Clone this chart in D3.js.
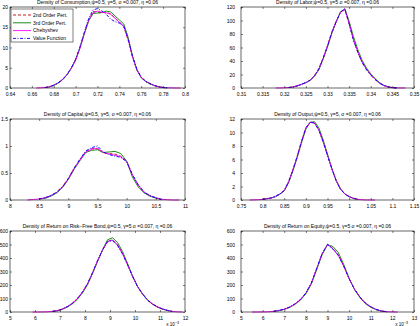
<!DOCTYPE html>
<html>
<head>
<meta charset="utf-8">
<script src="https://cdn.jsdelivr.net/npm/d3@7"></script>
<style>
  body { margin: 0; background: #fff; }
  svg { font-family: "Liberation Sans", Arial, sans-serif; }
</style>
</head>
<body>
<div id="chart"></div>
<script>
// Series names (legend)
var seriesNames = ["2nd Order Pert.", "3rd Order Pert.", "Chebyshev", "Value Function"];

// Consumption
var consBins = [0.664,0.668,0.672,0.676,0.680,0.684,0.688,0.692,0.696,0.700,0.704,0.708,0.712,0.716,0.720,0.724,0.728,0.732,0.736,0.740,0.744,0.748,0.752,0.756,0.760,0.764,0.768,0.772,0.776,0.780,0.784,0.788,0.792,0.796];
var consPert2 = [null,null,0.1,0.3,0.7,1.2,2.0,3.3,4.9,7.0,10.0,13.6,16.9,18.9,18.7,18.6,18.7,18.3,17.3,16.3,15.2,11.8,7.6,4.4,2.6,1.6,1.0,0.6,0.3,0.1,0.05,null,null,null];
var consPert3 = [null,null,0.1,0.25,0.6,1.2,2.0,3.2,4.9,7.0,10.0,13.4,16.6,18.4,18.5,18.6,19.0,18.8,17.8,16.8,15.8,12.5,7.9,4.5,2.5,1.6,1.0,0.6,0.3,0.1,0.05,null,null,null];
var consCheb = [0,0.05,0.15,0.3,0.7,1.3,2.1,3.2,4.8,6.8,9.8,13.5,16.8,18.6,19.0,18.7,18.6,18.2,17.2,16.2,15.3,12.0,7.8,4.5,2.6,1.7,1.1,0.6,0.3,0.15,0.05,0.02,0,0];
var consVfi = [null,null,0.1,0.3,0.7,1.3,2.1,3.3,4.9,7.1,10.2,13.8,17.2,19.3,19.6,19.0,18.2,17.0,16.4,16.0,15.2,12.2,7.9,4.6,2.7,1.7,1.1,0.6,0.3,0.15,0.05,null,null,null];
var consXTicks = [0.64,0.66,0.68,0.7,0.72,0.74,0.76,0.78,0.8];
var consYTicks = [0,5,10,15,20];

// Labor
var laborBins = [0.318,0.319,0.320,0.321,0.322,0.323,0.324,0.325,0.326,0.327,0.328,0.329,0.330,0.331,0.332,0.333,0.334,0.335,0.336,0.337,0.338,0.339,0.340,0.341,0.342,0.343,0.344,0.345,0.346,0.347,0.348];
var laborPert2 = [null,null,null,0.6,1.4,3.3,5.6,8.2,11.8,18.5,29,45,63,83,99,112,116,95,71,53,38,27,19,12.5,7.2,3.6,1.5,0.5,0.1,null,null];
var laborPert3 = [null,null,null,0.6,1.4,3.0,5.3,7.8,11.2,17.5,27,43,61,81,98,113,117,99,76,57,41,30,21,14,8.2,4.2,1.9,0.7,0.2,null,null];
var laborCheb = [0,0.1,0.3,0.7,1.5,3.2,5.5,8,11.5,18,28,44,62,82,98,112,117,96,72,54,39,28,20,13,7.5,3.8,1.6,0.6,0.2,0.05,0];
var laborVfi = [null,null,null,0.7,1.5,3.2,5.5,8.1,11.6,18.2,28,44,62,82,98,112,118,95,71,53,38,27.5,19.5,12.8,7.3,3.7,1.5,0.5,0.1,null,null];
var laborXTicks = [0.31,0.315,0.32,0.325,0.33,0.335,0.34,0.345,0.35];
var laborYTicks = [0,20,40,60,80,100,120];

// Capital
var capBins = [8.3,8.4,8.5,8.6,8.7,8.8,8.9,9.0,9.1,9.2,9.3,9.4,9.5,9.6,9.7,9.8,9.9,10.0,10.1,10.2,10.3,10.4,10.5,10.6,10.7,10.8,10.9];
var capPert2 = [null,null,0.02,0.04,0.08,0.15,0.25,0.40,0.59,0.75,0.90,0.95,0.95,0.87,0.86,0.85,0.81,0.72,0.46,0.27,0.14,0.08,0.04,0.01,null,null,null];
var capPert3 = [null,null,0.02,0.03,0.07,0.13,0.23,0.38,0.57,0.73,0.88,0.92,0.93,0.88,0.89,0.90,0.86,0.72,0.42,0.24,0.13,0.07,0.035,0.01,null,null,null];
var capCheb = [0,0.01,0.02,0.04,0.08,0.14,0.24,0.39,0.58,0.74,0.89,0.94,0.96,0.88,0.85,0.83,0.80,0.71,0.46,0.27,0.14,0.08,0.04,0.015,0.005,0,0];
var capVfi = [null,null,0.02,0.04,0.08,0.14,0.24,0.40,0.59,0.76,0.91,0.97,1.0,0.89,0.84,0.81,0.79,0.71,0.47,0.28,0.15,0.08,0.04,0.01,null,null,null];
var capXTicks = [8,8.5,9,9.5,10,10.5,11];
var capYTicks = [0,0.5,1,1.5];

// Output
var outBins = [0.77,0.78,0.79,0.80,0.81,0.82,0.83,0.84,0.85,0.86,0.87,0.88,0.89,0.90,0.91,0.92,0.93,0.94,0.95,0.96,0.97,0.98,0.99,1.00,1.01,1.02,1.03,1.04,1.05,1.06];
var outPert2 = [null,null,null,0.1,0.2,0.3,0.55,0.9,1.45,2.7,4.5,6.5,8.7,10.7,11.5,11.4,10.4,8.6,6.6,4.6,2.9,1.6,0.9,0.5,0.25,0.1,null,null,null,null];
var outPert3 = [null,null,null,0.1,0.2,0.3,0.5,0.85,1.35,2.55,4.3,6.3,8.5,10.5,11.5,11.6,10.7,8.9,6.8,4.7,2.9,1.65,0.9,0.5,0.25,0.1,null,null,null,null];
var outCheb = [0,0.02,0.05,0.1,0.2,0.3,0.55,0.9,1.4,2.65,4.4,6.4,8.65,10.65,11.5,11.4,10.4,8.65,6.65,4.65,2.9,1.65,0.9,0.5,0.25,0.1,0.04,0.01,0,0];
var outVfi = [null,null,null,0.1,0.2,0.3,0.55,0.9,1.4,2.7,4.45,6.45,8.7,10.7,11.55,11.4,10.35,8.6,6.6,4.6,2.85,1.6,0.9,0.5,0.25,0.1,null,null,null,null];
var outXTicks = [0.75,0.8,0.85,0.9,0.95,1,1.05,1.1,1.15];
var outYTicks = [0,2,4,6,8,10,12];

// Return on risk-free bond (x 10^-3)
var bondBins = [5.9,6.1,6.3,6.5,6.7,6.9,7.1,7.3,7.5,7.7,7.9,8.1,8.3,8.5,8.7,8.9,9.1,9.3,9.5,9.7,9.9,10.1,10.3,10.5,10.7,10.9,11.1,11.3,11.5,11.7,11.9];
var bondPert2 = [null,null,null,null,5,11,23,40,64,99,146,206,288,376,458,525,535,500,436,354,266,190,134,89,59,37,22,11,4,null,null];
var bondPert3 = [null,null,null,null,4,9,20,37,61,95,142,202,284,374,460,535,550,515,448,360,268,188,132,87,57,35,21,11,4,null,null];
var bondCheb = [0,0,0.5,1.5,5,10,22,40,65,100,148,208,290,378,458,522,532,497,433,352,265,190,135,90,60,38,23,12,4,1,0];
var bondVfi = [null,null,null,null,5,10,22,41,66,101,149,210,292,380,460,520,528,493,430,350,264,190,135,90,60,38,23,12,4,null,null];
var bondXTicks = [5,6,7,8,9,10,11,12];
var bondYTicks = [0,100,200,300,400,500,600];

// Return on equity (x 10^-3)
var eqBins = [5.5,5.75,6.0,6.25,6.5,6.75,7.0,7.25,7.5,7.75,8.0,8.25,8.5,8.75,9.0,9.25,9.5,9.75,10.0,10.25,10.5,10.75,11.0,11.25,11.5,11.75,12.0,12.25];
var eqPert2 = [null,null,null,null,5,11,20,36,59,91,139,211,320,430,499,472,424,342,247,168,109,65,37,18,7,2,null,null];
var eqPert3 = [null,null,null,null,4,10,19,34,57,88,135,206,314,425,498,485,440,352,250,166,106,62,35,17,6,2,null,null];
var eqCheb = [0,0,0.5,1.5,5,11,20,36,60,92,140,212,321,430,500,468,420,340,246,168,110,66,38,19,7,2,0.5,0];
var eqVfi = [null,null,null,null,5,11,21,37,61,93,142,214,324,432,502,466,418,339,246,169,111,67,39,20,7,2,null,null];
var eqXTicks = [5,6,7,8,9,10,11,12,13];
var eqYTicks = [0,100,200,300,400,500,600];

var svgWidth = 420;
var svgHeight = 326;

var svg = d3.select("#chart")
  .append("svg")
  .attr("width", svgWidth)
  .attr("height", svgHeight);

var colLeft = [10, 241];
var colWidth = [175, 173];
var colLabelPad = [2, 6];
var rowTop = [7, 119, 231];
var rowHeight = 81;

var seriesStyle = [
  { color: "#c00000", dash: "3,2" },
  { color: "#008000", dash: null },
  { color: "#ff00ff", dash: null },
  { color: "#0000ff", dash: "3,1.5,1,1.5" }
];

var panels = [
  { title: "Density of Consumption,\u03c8=0.5, \u03b3=5, \u03c3 =0.007, \u03b7 =0.06", bins: consBins,
    series: [consPert2, consPert3, consCheb, consVfi], xDomain: [0.64, 0.8], yDomain: [0, 20],
    xTicks: consXTicks, yTicks: consYTicks, col: 0, row: 0, legend: true },
  { title: "Density of Labor,\u03c8=0.5, \u03b3=5 \u03c3 =0.007, \u03b7 =0.06", bins: laborBins,
    series: [laborPert2, laborPert3, laborCheb, laborVfi], xDomain: [0.31, 0.35], yDomain: [0, 120],
    xTicks: laborXTicks, yTicks: laborYTicks, col: 1, row: 0 },
  { title: "Density of Capital,\u03c8=0.5, \u03b3=5, \u03c3 =0.007, \u03b7 =0.06", bins: capBins,
    series: [capPert2, capPert3, capCheb, capVfi], xDomain: [8, 11], yDomain: [0, 1.5],
    xTicks: capXTicks, yTicks: capYTicks, col: 0, row: 1 },
  { title: "Density of Output,\u03c8=0.5, \u03b3=5, \u03c3 =0.007, \u03b7 =0.06", bins: outBins,
    series: [outPert2, outPert3, outCheb, outVfi], xDomain: [0.75, 1.15], yDomain: [0, 12],
    xTicks: outXTicks, yTicks: outYTicks, col: 1, row: 1 },
  { title: "Density of Return on Risk\u2212Free Bond,\u03c8=0.5, \u03b3=5 \u03c3 =0.007, \u03b7 =0.06", bins: bondBins,
    series: [bondPert2, bondPert3, bondCheb, bondVfi], xDomain: [5, 12], yDomain: [0, 600],
    xTicks: bondXTicks, yTicks: bondYTicks, col: 0, row: 2, scale: true },
  { title: "Density of Return on Equity,\u03c8=0.5, \u03b3=5 \u03c3 =0.007, \u03b7 =0.06", bins: eqBins,
    series: [eqPert2, eqPert3, eqCheb, eqVfi], xDomain: [5, 13], yDomain: [0, 600],
    xTicks: eqXTicks, yTicks: eqYTicks, col: 1, row: 2, scale: true }
];

var fmt = function(d) { return String(+d.toFixed(4)); };

function styleAxis(sel) {
  sel.attr("font-size", 5).attr("font-family", null);
  sel.select(".domain").remove();
  sel.selectAll(".tick line").attr("stroke", "#000").attr("stroke-width", 0.5);
  sel.selectAll(".tick text").attr("fill", "#000");
}

panels.forEach(function(p) {
  var w = colWidth[p.col];
  var h = rowHeight;
  var g = svg.append("g")
    .attr("transform", `translate(${colLeft[p.col]}, ${rowTop[p.row]})`);

  var x = d3.scaleLinear().domain(p.xDomain).range([0, w]);
  var y = d3.scaleLinear().domain(p.yDomain).range([h, 0]);

  var line = d3.line()
    .defined(d => d[1] != null)
    .x(d => x(d[0]))
    .y(d => y(d[1]));

  p.series.forEach(function(vals, i) {
    var pts = p.bins.map((b, j) => [b, vals[j]]);
    g.append("path")
      .datum(pts)
      .attr("d", line)
      .attr("fill", "none")
      .attr("stroke", seriesStyle[i].color)
      .attr("stroke-width", 0.9)
      .attr("stroke-dasharray", seriesStyle[i].dash);
  });

  // axes, ticks inward on all four sides
  g.append("g")
    .attr("transform", `translate(0, ${h})`)
    .call(d3.axisBottom(x).tickValues(p.xTicks).tickSize(-2).tickPadding(4).tickFormat(fmt))
    .call(styleAxis);
  g.append("g")
    .call(d3.axisTop(x).tickValues(p.xTicks).tickSize(-2).tickFormat(""))
    .call(styleAxis);
  g.append("g")
    .call(d3.axisLeft(y).tickValues(p.yTicks).tickSize(-2).tickPadding(colLabelPad[p.col]).tickFormat(fmt))
    .call(styleAxis);
  g.append("g")
    .attr("transform", `translate(${w}, 0)`)
    .call(d3.axisRight(y).tickValues(p.yTicks).tickSize(-2).tickFormat(""))
    .call(styleAxis);

  g.append("rect")
    .attr("width", w)
    .attr("height", h)
    .attr("fill", "none")
    .attr("stroke", "#000")
    .attr("stroke-width", 0.6);

  g.append("text")
    .attr("x", w / 2)
    .attr("y", -3.5)
    .attr("text-anchor", "middle")
    .attr("font-size", 5)
    .text(p.title);

  if (p.scale) {
    var t = g.append("text")
      .attr("x", w - 6)
      .attr("y", h + 13.5)
      .attr("text-anchor", "end")
      .attr("font-size", 4.6);
    t.append("tspan").text("x 10");
    t.append("tspan").attr("font-size", 3.6).attr("dy", -1.8).text("\u22123");
  }

  if (p.legend) {
    var lg = g.append("g").attr("transform", "translate(1, 2)");
    lg.append("rect")
      .attr("width", 62)
      .attr("height", 33)
      .attr("fill", "#fff")
      .attr("stroke", "#000")
      .attr("stroke-width", 0.5);
    seriesNames.forEach(function(name, i) {
      var yy = 6 + i * 7.8;
      lg.append("line")
        .attr("x1", 2).attr("x2", 20)
        .attr("y1", yy).attr("y2", yy)
        .attr("stroke", seriesStyle[i].color)
        .attr("stroke-width", 0.9)
        .attr("stroke-dasharray", seriesStyle[i].dash);
      lg.append("text")
        .attr("x", 22)
        .attr("y", yy + 1.8)
        .attr("font-size", 5)
        .text(name);
    });
  }
});
</script>
</body>
</html>
